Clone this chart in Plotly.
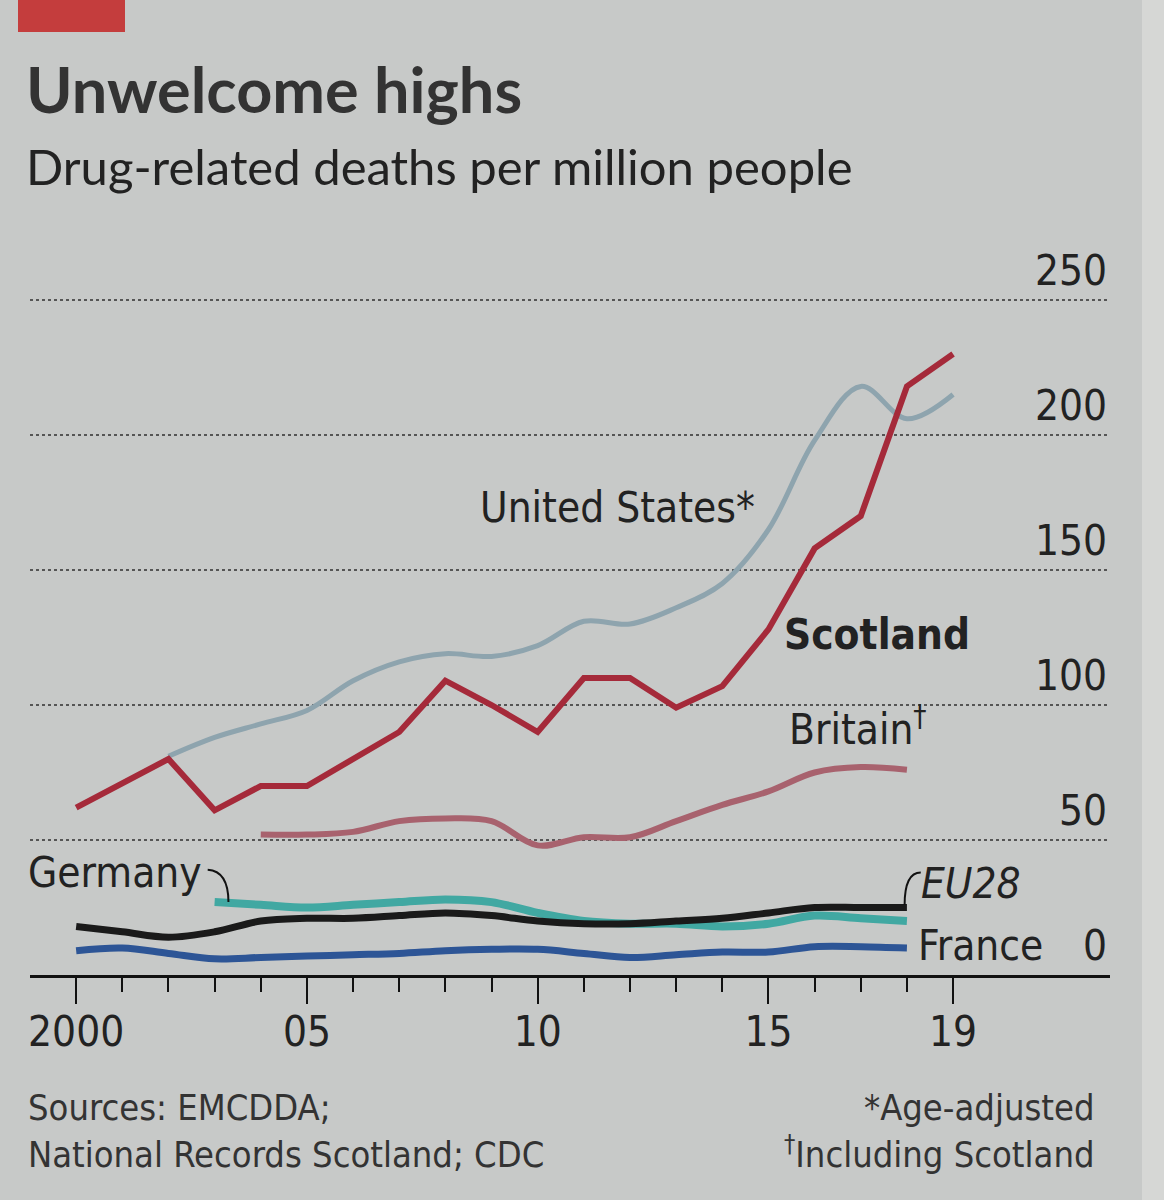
import plotly.graph_objects as go

years = list(range(2000, 2020))
scotland = [62, 71, 80, 61, 70, 70, 80, 90, 109, 100, 90, 110, 110, 99, 107, 128, 158, 170, 218, 230]
us_years = list(range(2002, 2020))
united_states = [81, 88, 93, 98, 109, 116, 119, 118, 122, 131, 130, 136, 145, 165, 198, 218, 206, 215]
britain_years = list(range(2004, 2019))
britain = [52, 52, 53, 57, 58, 57, 48, 51, 51, 57, 63, 68, 75, 77, 76]
germany_years = list(range(2003, 2019))
germany = [27, 26, 25, 26, 27, 28, 27, 23, 20, 19, 19, 18, 19, 22, 21, 20]
eu_years = list(range(2000, 2019))
eu28 = [18, 16, 14, 16, 20, 21, 21, 22, 23, 22, 20, 19, 19, 20, 21, 23, 25, 25, 25]
france = [9, 10, 8, 6, 6.5, 7, 7.5, 8, 9, 9.5, 9.5, 8, 6.5, 7.5, 8.5, 8.5, 10.5, 10.5, 10]

y_ticks = [0, 50, 100, 150, 200, 250]
x_major = [2000, 2005, 2010, 2015, 2019]
x_major_text = ["2000", "05", "10", "15", "19"]

BG = "#c7c9c8"
COND = "Liberation Sans Narrow, DejaVu Sans Condensed, Open Sans, sans-serif"
INK = "#222222"

L, R, T, B = 30, 1110, 215, 975
PW, PH = R - L, B - T
Y_MAX = PH / 2.7


def px(x):
    return (x - L) / PW


def py(y):
    return (B - y) / PH


fig = go.Figure()
fig.add_trace(go.Scatter(x=germany_years, y=germany, mode="lines",
                         line=dict(color="#41a8a2", width=8, shape="spline")))
fig.add_trace(go.Scatter(x=eu_years, y=eu28, mode="lines",
                         line=dict(color="#1a1a1a", width=7, shape="spline")))
fig.add_trace(go.Scatter(x=eu_years, y=france, mode="lines",
                         line=dict(color="#2d5596", width=7, shape="spline")))
fig.add_trace(go.Scatter(x=britain_years, y=britain, mode="lines",
                         line=dict(color="#a8626e", width=6, shape="spline")))
fig.add_trace(go.Scatter(x=us_years, y=united_states, mode="lines",
                         line=dict(color="#8ea4ae", width=5, shape="spline")))
fig.add_trace(go.Scatter(x=years, y=scotland, mode="lines",
                         line=dict(color="#a52a3a", width=6)))

# connectors
fig.add_shape(type="path", xref="x", yref="y",
              path="M 2002.85,39 Q 2003.3,38.5 2003.3,27",
              line=dict(color="#111", width=2))
fig.add_shape(type="path", xref="x", yref="y",
              path="M 2018.3,38 Q 2017.95,38 2017.95,26",
              line=dict(color="#111", width=2))

# header red box and right light strip
fig.add_shape(type="rect", xref="paper", yref="paper",
              x0=px(18), x1=px(125), y0=py(32), y1=py(-5),
              line=dict(width=0), fillcolor="#c43d3d", layer="below")
fig.add_shape(type="rect", xref="paper", yref="paper",
              x0=px(1142), x1=px(1170), y0=py(1210), y1=py(-10),
              line=dict(width=0), fillcolor="#d6d7d5", layer="below")

ann = []
ann.append(dict(text="<b>Unwelcome highs</b>", xref="paper", yref="paper",
                x=px(24), y=py(88), xanchor="left", yanchor="middle",
                showarrow=False, font=dict(family="Lato", size=63, color="#333333")))
ann.append(dict(text="Drug-related deaths per million people", xref="paper", yref="paper",
                x=px(24), y=py(166), xanchor="left", yanchor="middle",
                showarrow=False, font=dict(family="Lato", size=49, color=INK)))
ann.append(dict(text="United States*", x=2011.73, y=173, xanchor="center", yanchor="middle",
                showarrow=False, font=dict(family=COND, size=42, color=INK)))
ann.append(dict(text="<b>Scotland</b>", x=2017.36, y=126, xanchor="center", yanchor="middle",
                showarrow=False, font=dict(family=COND, size=42, color=INK)))
ann.append(dict(text="Britain<sup>†</sup>", x=2015.4, y=92, xanchor="left", yanchor="middle",
                showarrow=False, font=dict(family=COND, size=42, color=INK)))
ann.append(dict(text="Germany", xref="paper", x=px(26), y=38, xanchor="left", yanchor="middle",
                showarrow=False, font=dict(family=COND, size=42, color=INK)))
ann.append(dict(text="<i>EU28</i>", x=2018.27, y=34, xanchor="left", yanchor="middle",
                showarrow=False, font=dict(family=COND, size=42, color=INK)))
ann.append(dict(text="France", x=2018.2, y=11, xanchor="left", yanchor="middle",
                showarrow=False, font=dict(family=COND, size=42, color=INK)))
ann.append(dict(text="Sources: EMCDDA;<br>National Records Scotland; CDC", xref="paper", yref="paper",
                x=px(26), y=py(1085), xanchor="left", yanchor="top", align="left",
                showarrow=False, font=dict(family=COND, size=36, color="#333333")))
ann.append(dict(text="*Age-adjusted<br><sup>†</sup>Including Scotland", xref="paper", yref="paper",
                x=px(1097), y=py(1085), xanchor="right", yanchor="top", align="right",
                showarrow=False, font=dict(family=COND, size=36, color="#333333")))

fig.update_layout(
    width=1164, height=1200,
    margin=dict(l=L, r=1164 - R, t=T, b=1200 - B),
    paper_bgcolor=BG, plot_bgcolor=BG,
    showlegend=False,
    annotations=ann,
    xaxis=dict(range=[1999.0, 2022.4], tickvals=x_major, ticktext=x_major_text,
               ticks="outside", ticklen=26, tickwidth=2, tickcolor="#111",
               minor=dict(tickvals=years, ticklen=14, tickwidth=2, tickcolor="#111", ticks="outside"),
               showline=True, linewidth=3, linecolor="#111",
               showgrid=False, zeroline=False, ticklabelstandoff=-8,
               tickfont=dict(family=COND, size=42, color=INK)),
    yaxis=dict(range=[0, Y_MAX], tickvals=y_ticks, side="right", ticklabelposition="inside top",
               showgrid=True, gridcolor="#555555", griddash="dot", gridwidth=1.5,
               zeroline=False, showline=False, ticks="",
               tickfont=dict(family=COND, size=42, color=INK)),
)

fig.write_html("out.html")
